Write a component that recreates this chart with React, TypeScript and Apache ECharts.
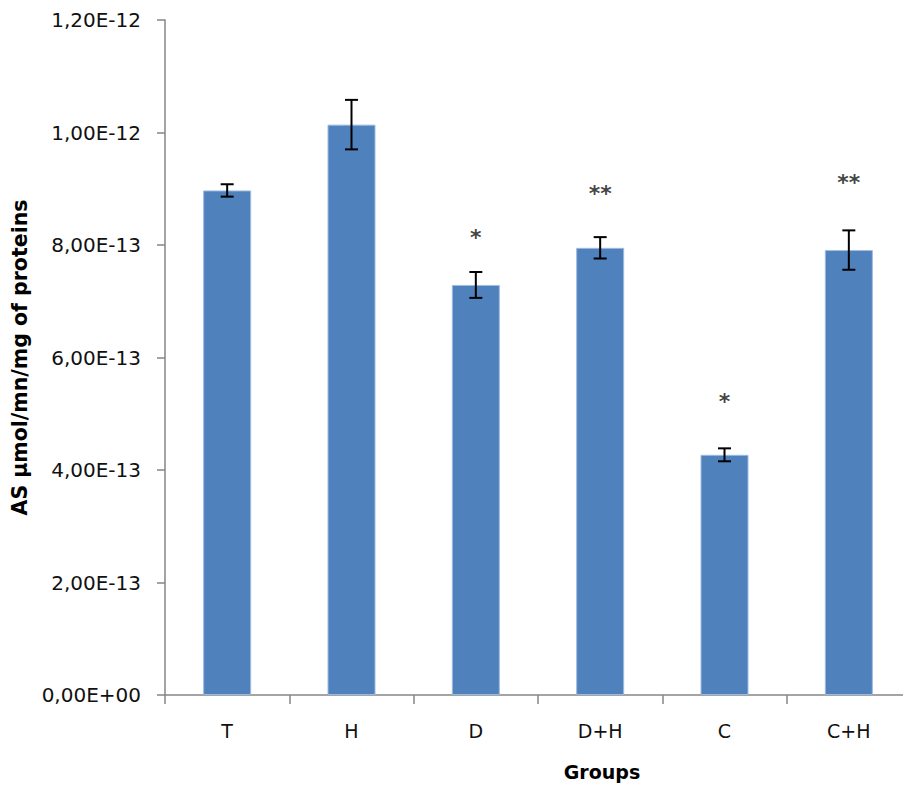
import React, { useEffect, useRef } from "react";
import * as echarts from "echarts";

const categories = ["T", "H", "D", "D+H", "C", "C+H"];
const means = [8.97e-13, 1.014e-12, 7.29e-13, 7.95e-13, 4.27e-13, 7.91e-13];
const errors = [1.1e-14, 4.4e-14, 2.3e-14, 1.9e-14, 1.15e-14, 3.5e-14];
const starLabels = ["", "", "*", "**", "*", "**"];
const starY = [0, 0, 8.17e-13, 8.96e-13, 5.26e-13, 9.14e-13];
const yTicks = { min: 0, max: 1.2e-12, interval: 2e-13 };

const FONT = "DejaVu Sans";

function fmt(v: number): string {
  const s = v.toExponential(2);
  const m = s.match(/^(-?\d)\.(\d+)e([+-])(\d+)$/);
  if (!m) return s;
  const exp = m[4].length < 2 ? "0" + m[4] : m[4];
  return `${m[1]},${m[2]}E${m[3]}${exp}`;
}

export default function App() {
  const ref = useRef<HTMLDivElement>(null);
  useEffect(() => {
    if (!ref.current) return;
    const chart = echarts.init(ref.current, undefined, { renderer: "svg" });
    const errData = categories.map((c, i) => [i, means[i] - errors[i], means[i] + errors[i]]);
    const starData = categories
      .map((c, i) => ({ value: [i, starY[i]], label: starLabels[i] }))
      .filter((d) => d.label !== "");
    chart.setOption({
      animation: false,
      backgroundColor: "#ffffff",
      grid: { left: 165, right: 0, top: 20, bottom: 90 },
      xAxis: {
        type: "category",
        data: categories,
        boundaryGap: true,
        axisLine: { show: true, lineStyle: { color: "#868686", width: 1.5 } },
        axisTick: { show: true, alignWithLabel: false, interval: 0, length: 9, lineStyle: { color: "#868686", width: 1.5 } },
        axisLabel: { interval: 0, margin: 26, color: "#111", fontFamily: FONT, fontSize: 19 },
        splitLine: { show: false },
      },
      yAxis: {
        type: "value",
        min: yTicks.min,
        max: yTicks.max,
        interval: yTicks.interval,
        name: "AS µmol/mn/mg of proteins",
        nameLocation: "middle",
        nameGap: 106,
        nameRotate: 90,
        nameTextStyle: { fontFamily: FONT, fontWeight: "bold", fontSize: 20.5, color: "#000" },
        axisLine: { show: true, lineStyle: { color: "#868686", width: 1.5 } },
        axisTick: { show: true, length: 8, lineStyle: { color: "#868686", width: 1.5 } },
        axisLabel: { margin: 24, color: "#111", fontFamily: FONT, fontSize: 20, formatter: (v: number) => fmt(v) },
        splitLine: { show: false },
      },
      graphic: [
        {
          type: "text",
          x: 602,
          y: 772,
          style: {
            text: "Groups",
            fontFamily: FONT,
            fontWeight: "bold",
            fontSize: 19,
            fill: "#000",
            align: "center",
            verticalAlign: "middle",
          },
        },
      ],
      series: [
        {
          type: "bar",
          data: means,
          barWidth: 48,
          itemStyle: { color: "#4F81BD", borderColor: "#9dbbe0", borderWidth: 1 },
        },
        {
          type: "custom",
          data: errData,
          z: 5,
          renderItem: (params: any, api: any) => {
            const x = api.value(0);
            const lo = api.coord([x, api.value(1)]);
            const hi = api.coord([x, api.value(2)]);
            const hw = 6.5;
            const st = { stroke: "#000", lineWidth: 2 };
            return {
              type: "group",
              children: [
                { type: "line", shape: { x1: lo[0], y1: lo[1], x2: hi[0], y2: hi[1] }, style: st },
                { type: "line", shape: { x1: lo[0] - hw, y1: lo[1], x2: lo[0] + hw, y2: lo[1] }, style: st },
                { type: "line", shape: { x1: hi[0] - hw, y1: hi[1], x2: hi[0] + hw, y2: hi[1] }, style: st },
              ],
            };
          },
        },
        {
          type: "scatter",
          data: starData.map((d) => d.value),
          symbolSize: 0,
          z: 6,
          label: {
            show: true,
            position: "inside",
            offset: [0, 2],
            formatter: (p: any) => starLabels[p.value[0]],
            fontFamily: FONT,
            fontWeight: "bold",
            fontSize: 22,
            color: "#111",
          },
        },
      ],
    });
    return () => chart.dispose();
  }, []);
  return (
    <div style={{ position: "fixed", left: 0, top: 0, width: 903, height: 785, overflow: "hidden" }}>
      <div ref={ref} style={{ width: 911, height: 785 }} />
    </div>
  );
}
